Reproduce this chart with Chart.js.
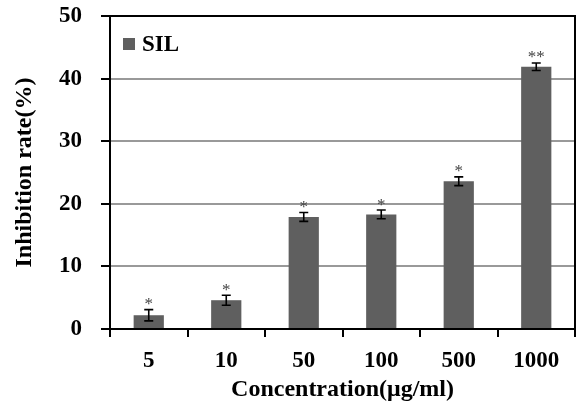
<!DOCTYPE html>
<html>
<head>
<meta charset="utf-8">
<script src="https://cdn.jsdelivr.net/npm/chart.js@4.4.1/dist/chart.umd.min.js"></script>
<style>
	html, body { margin: 0; padding: 0; background: #fff; }
	#wrap { width: 577px; height: 405px; position: relative; }
</style>
</head>
<body>
<div id="wrap"><canvas id="c"></canvas></div>
<script>
// Inhibition rate of SIL by concentration, bars with error bars and significance marks.
const CONCENTRATIONS = ['5', '10', '50', '100', '500', '1000'];
const INHIBITION = [2.2, 4.6, 17.9, 18.3, 23.6, 41.9];
const ERRORS = [0.9, 0.8, 0.7, 0.7, 0.7, 0.6];
const SIGNIFICANCE = ['*', '*', '*', '*', '*', '**'];
const Y_TICKS = [0, 10, 20, 30, 40, 50];

const FONT = '"Liberation Serif", "Times New Roman", serif';
const BAR_COLOR = '#5f5f5f';

// Error bars, asterisks, the legend and the top/right frame are drawn after the bars.
const extras = {
	id: 'extras',
	afterDatasetsDraw(chart) {
		const { ctx, chartArea, scales } = chart;
		const x = scales.x;
		const y = scales.y;
		ctx.save();
		ctx.strokeStyle = '#000';
		ctx.lineWidth = 1.6;
		INHIBITION.forEach((v, i) => {
			const cx = x.getPixelForValue(i);
			const top = y.getPixelForValue(v + ERRORS[i]);
			const bot = y.getPixelForValue(v - ERRORS[i]);
			ctx.beginPath();
			ctx.moveTo(cx, top);
			ctx.lineTo(cx, bot);
			ctx.moveTo(cx - 4.5, top);
			ctx.lineTo(cx + 4.5, top);
			ctx.moveTo(cx - 4.5, bot);
			ctx.lineTo(cx + 4.5, bot);
			ctx.stroke();
			ctx.fillStyle = '#444';
			ctx.font = '17px ' + FONT;
			ctx.textAlign = 'center';
			ctx.textBaseline = 'middle';
			ctx.fillText(SIGNIFICANCE[i], cx, top - 5);
		});
		// frame
		ctx.lineWidth = 2;
		ctx.beginPath();
		ctx.moveTo(chartArea.left, chartArea.top);
		ctx.lineTo(chartArea.right, chartArea.top);
		ctx.lineTo(chartArea.right, chartArea.bottom);
		ctx.stroke();
		// legend
		ctx.fillStyle = BAR_COLOR;
		ctx.fillRect(chartArea.left + 13, chartArea.top + 22, 12, 12);
		ctx.fillStyle = '#000';
		ctx.font = 'bold 23px ' + FONT;
		ctx.textAlign = 'left';
		ctx.textBaseline = 'middle';
		ctx.fillText(chart.data.datasets[0].label, chartArea.left + 32, chartArea.top + 29);
		ctx.restore();
	},
};

new Chart(document.getElementById('c'), {
	type: 'bar',
	data: {
		labels: CONCENTRATIONS,
		datasets: [{
			label: 'SIL',
			data: INHIBITION,
			backgroundColor: BAR_COLOR,
			borderWidth: 0,
			categoryPercentage: 1,
			barPercentage: 0.39,
		}],
	},
	options: {
		responsive: true,
		maintainAspectRatio: false,
		animation: false,
		layout: { padding: { top: 16, right: 2, left: 0, bottom: 0 } },
		plugins: {
			legend: { display: false },
			tooltip: { enabled: false },
		},
		scales: {
			x: {
				afterFit: (axis) => {
					axis.height = 76;
					axis.paddingLeft = 0;
					axis.paddingRight = 0;
				},
				grid: {
					drawOnChartArea: false,
					color: '#000',
					lineWidth: 2,
					tickLength: 8,
				},
				border: { color: '#000', width: 2 },
				ticks: { color: '#000', font: { family: FONT, size: 23, weight: 'bold' }, padding: 10 },
				title: {
					display: true,
					text: 'Concentration(μg/ml)',
					color: '#000',
					font: { family: FONT, size: 24, weight: 'bold' },
					padding: { top: 0, bottom: 1 },
				},
			},
			y: {
				min: 0,
				max: 50,
				afterFit: (axis) => {
					axis.width = 110;
					axis.paddingTop = 0;
					axis.paddingBottom = 0;
				},
				afterBuildTicks: (axis) => { axis.ticks = Y_TICKS.map((v) => ({ value: v })); },
				grid: {
					color: '#999',
					lineWidth: 2,
					tickColor: '#000',
					tickLength: 9,
				},
				border: { color: '#000', width: 2 },
				ticks: { color: '#000', font: { family: FONT, size: 23, weight: 'bold' }, padding: 19 },
				title: {
					display: true,
					text: 'Inhibition rate(%)',
					color: '#000',
					font: { family: FONT, size: 24, weight: 'bold' },
					padding: { top: 10, bottom: 0 },
				},
			},
		},
	},
	plugins: [extras],
});
</script>
</body>
</html>
